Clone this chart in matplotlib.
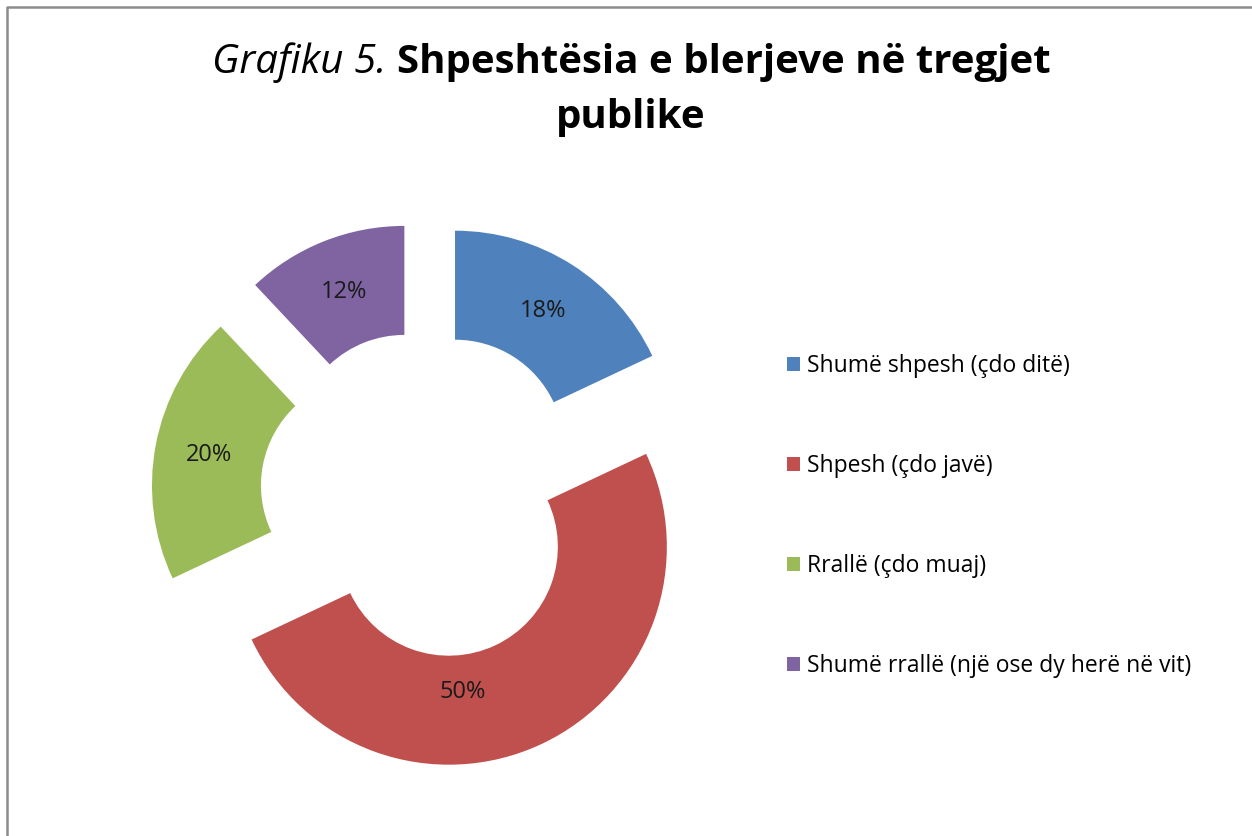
import numpy as np
import matplotlib
matplotlib.use("Agg")
import matplotlib.pyplot as plt
from matplotlib.lines import Line2D

# ---- data ----
categories = ["Shumë shpesh (çdo ditë)", "Shpesh (çdo javë)", "Rrallë (çdo muaj)",
              "Shumë rrallë (një ose dy herë në vit)"]
values = [18, 50, 20, 12]
colors = ["#4F81BD", "#C0504D", "#9BBB59", "#8064A2"]
title_italic = "Grafiku 5. "
title_bold_1 = "Shpeshtësia e blerjeve në tregjet"
title_bold_2 = "publike"

FONT = "Open Sans"
W, H = 1252, 836
fig = plt.figure(figsize=(W / 100, H / 100), dpi=100)
fig.patch.set_facecolor("white")

# pie axes: scale 218 px per unit, centre at pixel (425, 340 from bottom)
scale = 218.0
cx, cy = 425.0, 340.0
ax_l, ax_r, ax_b, ax_t = 100.0, 750.0, 40.0, 640.0
ax = fig.add_axes([ax_l / W, ax_b / H, (ax_r - ax_l) / W, (ax_t - ax_b) / H])
ax.axis("off")

explode = [0.257] * len(values)
wedges, texts, autotexts = ax.pie(
    values, colors=colors, startangle=90, counterclock=False, explode=explode,
    radius=1.0, wedgeprops=dict(width=0.5, linewidth=0),
    autopct="%d%%", pctdistance=0.75,
    textprops=dict(fontsize=17, family=FONT, color="#1a1a1a"),
    frame=False)
ax.set_xlim((ax_l - cx) / scale, (ax_r - cx) / scale)
ax.set_ylim((ax_b - cy) / scale, (ax_t - cy) / scale)
ax.set_aspect("auto")

# Excel places the large slice label somewhat lower; shift it around its ring
w = wedges[1]
mid = np.deg2rad(-84.5)
ox, oy = w.center
autotexts[1].set_position((ox + 0.67 * np.cos(mid), oy + 0.67 * np.sin(mid)))

# legend
leg = fig.legend(wedges, categories, loc="upper left",
                 bbox_to_anchor=(787 / W, 1 - 354 / H), frameon=False,
                 prop=dict(family=FONT, size=16.5), handlelength=0.58,
                 handleheight=0.58, handletextpad=0.3, labelspacing=3.32,
                 borderaxespad=0, borderpad=0)

# title (italic + bold pieces)
fig.canvas.draw()
r = fig.canvas.get_renderer()
title_size = 29
t1 = fig.text(0, 0, title_italic, fontsize=title_size, family=FONT, style="italic",
              color="black", va="baseline")
t2 = fig.text(0, 0, title_bold_1, fontsize=title_size, family=FONT, weight="bold",
              color="black", va="baseline")
w1 = t1.get_window_extent(r).width
w2 = t2.get_window_extent(r).width
x0 = 631 - (w1 + w2) / 2
base1 = H - 73
t1.set_position((x0 / W, base1 / H))
t2.set_position(((x0 + w1) / W, base1 / H))
fig.text(631 / W, (H - 128) / H, title_bold_2, fontsize=title_size, family=FONT,
         weight="bold", color="black", ha="center", va="baseline")

# chart-area border (left and top edges visible)
fig.add_artist(Line2D([6.5 / W, 6.5 / W, 1.0], [0.0, 1 - 7 / H, 1 - 7 / H],
                      transform=fig.transFigure, color="#8c8c8c", linewidth=1.8))

fig.savefig("out.png", dpi=100, facecolor="white")
